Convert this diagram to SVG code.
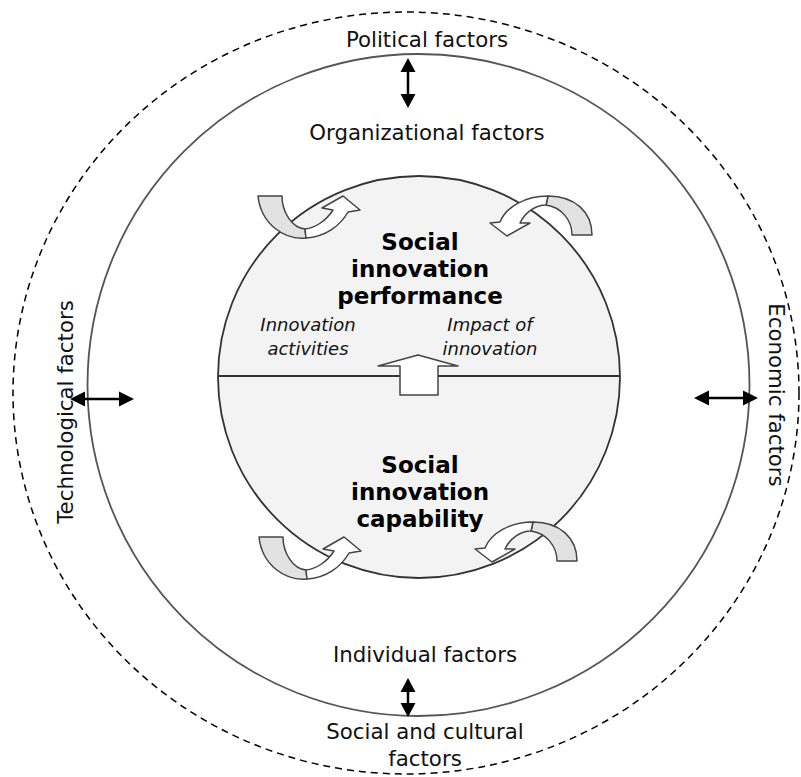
<svg xmlns="http://www.w3.org/2000/svg" width="801" height="777" viewBox="0 0 801 777">
<style>
.lbl{font-family:"DejaVu Sans","Liberation Sans",sans-serif;font-size:21.3px;fill:#111;text-anchor:middle}
.bold{font-family:"DejaVu Sans","Liberation Sans",sans-serif;font-size:23px;font-weight:bold;fill:#000;text-anchor:middle}
.ital{font-family:"DejaVu Sans","Liberation Sans",sans-serif;font-size:18px;font-style:italic;fill:#111;text-anchor:middle}
.conn{stroke:#000;stroke-width:2.5;fill:none}
.head{fill:#000}
.gray{fill:#e2e2e2;stroke:#444;stroke-width:1.5;stroke-linejoin:round}
.white{fill:#fff;stroke:#444;stroke-width:1.5;stroke-linejoin:round}
</style>
<rect width="801" height="777" fill="#fff"/>
<g id="outer-ring">
<ellipse cx="406" cy="393" rx="393" ry="381" fill="none" stroke="#000" stroke-width="1.5" stroke-dasharray="7,5"/>
</g>
<g id="middle-ring">
<circle cx="418.5" cy="385" r="331" fill="none" stroke="#555" stroke-width="1.8"/>
</g>
<g id="core">
<circle cx="419" cy="377" r="201" fill="#f3f3f3" stroke="#333" stroke-width="1.8"/>
<line x1="218" y1="376" x2="620" y2="376" stroke="#333" stroke-width="1.8"/>
</g>
<g id="performance">
<text class="bold" x="420" y="250">Social</text>
<text class="bold" x="420" y="277">innovation</text>
<text class="bold" x="420" y="304">performance</text>
</g>
<g id="capability">
<text class="bold" x="420" y="473">Social</text>
<text class="bold" x="420" y="500">innovation</text>
<text class="bold" x="420" y="527">capability</text>
</g>
<g id="innovation-activities">
<text class="ital" x="308" y="331">Innovation</text>
<text class="ital" x="308" y="355">activities</text>
</g>
<g id="impact-of-innovation">
<text class="ital" x="490" y="331">Impact of</text>
<text class="ital" x="490" y="355">innovation</text>
</g>
<g id="political"><text class="lbl" x="427" y="47">Political factors</text></g>
<g id="organizational"><text class="lbl" x="427" y="140">Organizational factors</text></g>
<g id="individual"><text class="lbl" x="425" y="662">Individual factors</text></g>
<g id="social-cultural"><text class="lbl" x="425" y="739">Social and cultural</text><text class="lbl" x="425" y="766">factors</text></g>
<g id="technological"><text class="lbl" transform="translate(73,412) rotate(-90)">Technological factors</text></g>
<g id="economic"><text class="lbl" transform="translate(769,395) rotate(90)">Economic factors</text></g>
<g id="connectors">
<line class="conn" x1="408" y1="70" x2="408" y2="96"/>
<polygon class="head" points="408,58 400.5,72 415.5,72"/>
<polygon class="head" points="408,108 400.5,94 415.5,94"/>
<line class="conn" x1="408" y1="690" x2="408" y2="705"/>
<polygon class="head" points="408,678 400.5,692 415.5,692"/>
<polygon class="head" points="408,717 400.5,703 415.5,703"/>
<line class="conn" x1="82" y1="399" x2="122" y2="399"/>
<polygon class="head" points="70,399 85,391.5 85,406.5"/>
<polygon class="head" points="134,399 119,391.5 119,406.5"/>
<line class="conn" x1="708" y1="398" x2="746" y2="398"/>
<polygon class="head" points="694,398 709,390.5 709,405.5"/>
<polygon class="head" points="758,398 743,390.5 743,405.5"/>
</g>
<g id="center-arrow">
<path class="white" d="M400,395 L400,366 L378,366 L418,355 L458,366 L438,366 L438,395 Z"/>
</g>
<defs>
<g id="uarrow-l">
<path class="gray" d="M258,196 L282,196 C282,212 292,228 305,229 L306,238 C284,240 261,224 258,196 Z"/>
<path class="white" d="M305,229 C315,228 326,221 333,210 L322,208 L343,196 L360,210 L348,212 C340,226 325,237 306,238 Z"/>
</g>
<g id="uarrow-r">
<path class="gray" d="M572,235 L592,235 C592,212 575,196 548,196 L546,205 C561,207 572,220 572,235 Z"/>
<path class="white" d="M548,196 C525,196 506,207 500,222 L490,223 L507,236 L530,223 L520,223 C525,212 536,205 546,205 Z"/>
</g>
</defs>
<g id="cycle-top-left"><use href="#uarrow-l"/></g>
<g id="cycle-top-right"><use href="#uarrow-r"/></g>
<g id="cycle-bottom-left"><use href="#uarrow-l" transform="translate(1,341)"/></g>
<g id="cycle-bottom-right"><use href="#uarrow-r" transform="translate(-15,326)"/></g>
</svg>
